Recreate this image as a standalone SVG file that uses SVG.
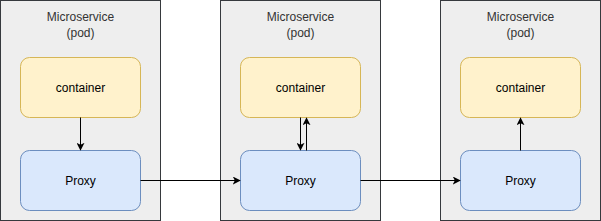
<svg xmlns="http://www.w3.org/2000/svg" width="601" height="221" viewBox="0 0 601 221">
<style>
.pod{fill:#eeeeee;stroke:#36393d;stroke-width:1}
.cont{fill:#fff2cc;stroke:#d6b656;stroke-width:1}
.proxy{fill:#dae8fc;stroke:#6c8ebf;stroke-width:1}
.t{font-family:"Liberation Sans",Arial,sans-serif;font-size:12px;text-anchor:middle;fill:#000000}
.pt{font-family:"Liberation Sans",Arial,sans-serif;font-size:12px;text-anchor:middle;fill:#333333}
.edge{stroke:#000000;stroke-width:1;fill:none;marker-end:url(#arr)}
</style>
<defs>
<marker id="arr" viewBox="0 0 10 10" refX="9" refY="5" markerWidth="8" markerHeight="8" markerUnits="userSpaceOnUse" orient="auto">
<path d="M0,0 L10,5 L0,10 L2.5,5 Z" fill="#000000"/>
</marker>
</defs>
<g id="pod1">
<rect class="pod" x="0.5" y="0.5" width="160" height="220"/>
<text class="pt" x="80.5" y="21">Microservice</text>
<text class="pt" x="80.5" y="37">(pod)</text>
</g>
<g id="pod2">
<rect class="pod" x="220.5" y="0.5" width="160" height="220"/>
<text class="pt" x="300.5" y="21">Microservice</text>
<text class="pt" x="300.5" y="37">(pod)</text>
</g>
<g id="pod3">
<rect class="pod" x="440.5" y="0.5" width="160" height="220"/>
<text class="pt" x="520.5" y="21">Microservice</text>
<text class="pt" x="520.5" y="37">(pod)</text>
</g>
<g id="container1">
<rect class="cont" x="20.5" y="57.5" width="120" height="60" rx="9" ry="9"/>
<text class="t" x="80.5" y="91.5">container</text>
</g>
<g id="proxy1">
<rect class="proxy" x="20.5" y="150.5" width="120" height="60" rx="9" ry="9"/>
<text class="t" x="80.5" y="184.5">Proxy</text>
</g>
<g id="container2">
<rect class="cont" x="240.5" y="57.5" width="120" height="60" rx="9" ry="9"/>
<text class="t" x="300.5" y="91.5">container</text>
</g>
<g id="proxy2">
<rect class="proxy" x="240.5" y="150.5" width="120" height="60" rx="9" ry="9"/>
<text class="t" x="300.5" y="184.5">Proxy</text>
</g>
<g id="container3">
<rect class="cont" x="460.5" y="57.5" width="120" height="60" rx="9" ry="9"/>
<text class="t" x="520.5" y="91.5">container</text>
</g>
<g id="proxy3">
<rect class="proxy" x="460.5" y="150.5" width="120" height="60" rx="9" ry="9"/>
<text class="t" x="520.5" y="184.5">Proxy</text>
</g>
<g id="connectors">
<path class="edge" d="M80.5,117.5 L80.5,150"/>
<path class="edge" d="M140.5,180.5 L240,180.5"/>
<path class="edge" d="M300.5,117.5 L300.5,150"/>
<path class="edge" d="M306.5,150.5 L306.5,118"/>
<path class="edge" d="M360.5,180.5 L460,180.5"/>
<path class="edge" d="M520.5,150.5 L520.5,118"/>
</g>
</svg>
